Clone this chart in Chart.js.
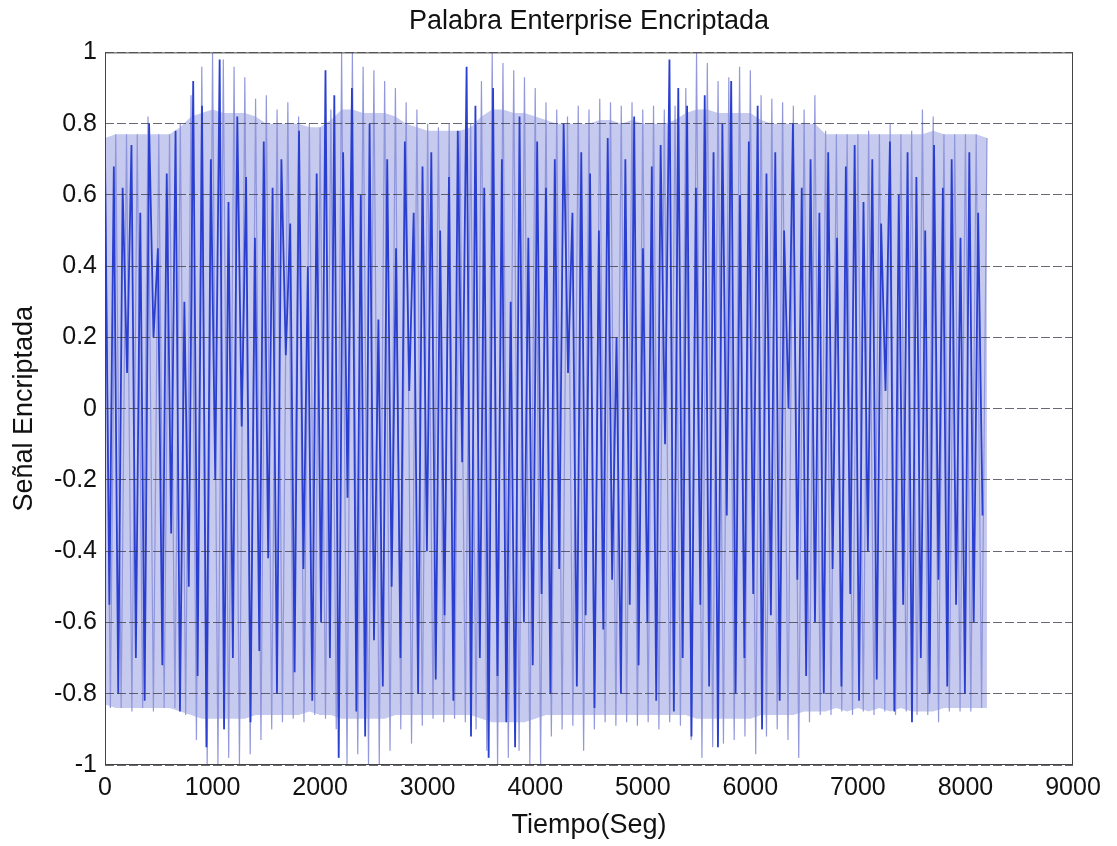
<!DOCTYPE html>
<html>
<head>
<meta charset="utf-8">
<script src="https://cdn.jsdelivr.net/npm/chart.js@4/dist/chart.umd.min.js"></script>
<style>
  body { margin: 0; background: #fff; }
  #grafica { display: block; }
</style>
</head>
<body>
<canvas id="grafica" width="1117" height="846"></canvas>
<script>
// tiempo de cada bin de la envolvente (seg)
var tiempoEnv = [];
for (var t = 0; t <= 8200; t += 100) tiempoEnv.push(t);

// parte densa de la senal (zona casi solida), leida por bin de 100 seg
var nucleoSup = [0.76,0.77,0.77,0.77,0.77,0.77,0.77,0.79,0.82,0.83,0.84,0.83,0.83,0.83,0.82,0.80,0.80,0.80,0.80,0.79,0.79,0.81,0.84,0.84,0.83,0.83,0.83,0.82,0.80,0.79,0.78,0.78,0.78,0.78,0.79,0.82,0.84,0.84,0.83,0.83,0.82,0.81,0.80,0.80,0.80,0.80,0.81,0.81,0.80,0.81,0.80,0.80,0.80,0.81,0.83,0.84,0.84,0.83,0.83,0.83,0.83,0.81,0.80,0.80,0.80,0.80,0.80,0.77,0.77,0.77,0.77,0.77,0.77,0.77,0.77,0.77,0.77,0.78,0.77,0.77,0.77,0.77,0.76];
var nucleoInf = [-0.83,-0.84,-0.84,-0.84,-0.84,-0.84,-0.84,-0.85,-0.86,-0.87,-0.87,-0.87,-0.87,-0.87,-0.86,-0.86,-0.86,-0.86,-0.86,-0.85,-0.86,-0.86,-0.87,-0.87,-0.87,-0.87,-0.87,-0.86,-0.86,-0.86,-0.86,-0.86,-0.86,-0.86,-0.86,-0.87,-0.88,-0.88,-0.88,-0.88,-0.87,-0.86,-0.86,-0.86,-0.86,-0.86,-0.86,-0.86,-0.86,-0.86,-0.86,-0.86,-0.86,-0.86,-0.86,-0.87,-0.87,-0.87,-0.87,-0.87,-0.87,-0.86,-0.86,-0.86,-0.86,-0.85,-0.85,-0.85,-0.84,-0.85,-0.84,-0.85,-0.84,-0.85,-0.84,-0.85,-0.85,-0.85,-0.84,-0.84,-0.84,-0.84,-0.84];

// picos extremos de cada bin
var picoSup = [0.76,0.77,0.77,0.77,0.82,0.77,0.77,0.80,0.88,0.96,1.00,0.98,0.96,0.93,0.87,0.88,0.84,0.86,0.82,0.80,0.79,0.84,1.00,1.00,0.96,0.95,0.92,0.90,0.86,0.84,0.80,0.79,0.80,0.78,0.80,0.92,1.00,0.97,0.95,0.93,0.90,0.86,0.84,0.82,0.85,0.84,0.87,0.86,0.85,0.86,0.84,0.85,0.84,0.85,0.90,1.00,0.97,0.92,0.93,0.96,0.95,0.88,0.87,0.86,0.85,0.84,0.88,0.78,0.77,0.77,0.77,0.78,0.77,0.80,0.77,0.78,0.84,0.82,0.77,0.77,0.77,0.77,0.76];
var picoInf = [-0.84,-0.84,-0.85,-0.84,-0.85,-0.84,-0.84,-0.86,-0.93,-1.00,-1.00,-0.98,-1.00,-0.97,-0.93,-0.90,-0.88,-0.87,-0.88,-0.86,-0.87,-0.90,-1.00,-0.97,-1.00,-1.00,-0.96,-0.90,-0.94,-0.89,-0.87,-0.88,-0.87,-0.88,-0.90,-0.96,-1.00,-0.98,-0.96,-1.00,-1.00,-0.92,-0.90,-0.89,-0.96,-0.90,-0.88,-0.89,-0.88,-0.89,-0.88,-0.90,-0.88,-0.89,-0.93,-0.98,-0.95,-0.94,-0.93,-0.92,-0.97,-0.92,-0.90,-0.93,-0.98,-0.88,-0.86,-0.86,-0.85,-0.86,-0.85,-0.86,-0.85,-0.86,-0.85,-0.86,-0.86,-0.88,-0.85,-0.85,-0.85,-0.84,-0.84];

// trazos azul oscuro, uno cada 41 seg
var pasoOscuro = 41;
var trazoOscuro = [
  0.72,-0.55,0.68,-0.80,0.62,0.10,0.74,-0.70,0.55,-0.82,
  0.80,0.20,0.45,-0.72,0.66,-0.35,0.78,-0.85,0.30,-0.50,
  0.92,-0.75,0.85,-0.95,0.70,-0.20,0.98,-0.90,0.58,-0.70,
  0.82,-0.05,0.65,-0.88,0.48,-0.68,0.75,-0.42,0.62,-0.80,
  0.70,0.15,0.52,-0.74,0.78,-0.45,0.40,-0.82,0.66,-0.60,
  0.95,-0.70,0.88,-0.98,0.72,-0.25,0.90,-0.85,0.60,-0.92,
  0.80,-0.65,0.25,-0.78,0.70,-0.50,0.45,-0.70,0.75,0.05,
  0.55,-0.80,0.68,-0.40,0.72,-0.76,0.50,-0.58,0.65,-0.82,
  0.78,-0.15,0.96,-0.92,0.85,-0.70,0.62,-0.98,0.90,-0.75,
  0.70,-0.88,0.30,-0.95,0.82,-0.60,0.48,-0.72,0.75,-0.52,
  0.62,-0.80,0.70,-0.45,0.80,0.10,0.55,-0.78,0.72,-0.58,
  0.66,-0.84,0.50,-0.62,0.76,-0.48,0.20,-0.80,0.70,-0.55,
  0.82,-0.72,0.45,-0.60,0.68,-0.82,0.74,-0.10,0.98,-0.85,
  0.90,-0.70,0.85,-0.92,0.62,-0.55,0.88,-0.78,0.72,-0.95,
  0.80,-0.30,0.92,-0.80,0.60,-0.70,0.75,-0.52,0.85,-0.90,
  0.66,-0.58,0.72,-0.82,0.50,0.00,0.80,-0.48,0.62,-0.75,
  0.70,-0.60,0.55,-0.80,0.72,-0.45,0.48,-0.78,0.68,-0.52,
  0.74,-0.82,0.58,-0.40,0.70,-0.76,0.52,0.05,0.75,-0.85,
  0.60,-0.55,0.72,-0.88,0.65,-0.70,0.50,-0.80,0.74,-0.48,
  0.62,-0.78,0.70,-0.55,0.48,-0.80,0.72,-0.60,0.55,-0.30
];

var fuente = "'Liberation Sans', Arial, sans-serif";

// puntos para chart.js
var ptsNucleoSup = tiempoEnv.map(function (t, i) { return { x: t, y: nucleoSup[i] }; });
var ptsNucleoInf = tiempoEnv.map(function (t, i) { return { x: t, y: nucleoInf[i] }; });
var ptsPicos = [];
tiempoEnv.forEach(function (t, i) {
  ptsPicos.push({ x: t, y: picoSup[i] });
  if (t < 8200) ptsPicos.push({ x: t + 50, y: picoInf[i] });
});
var ptsOscuro = trazoOscuro.map(function (v, i) { return { x: i * pasoOscuro, y: v }; });

// marco del eje
var marco = {
  id: 'marco',
  afterDraw: function (chart) {
    var a = chart.chartArea, ctx = chart.ctx;
    ctx.save();
    ctx.strokeStyle = '#444';
    ctx.lineWidth = 1;
    ctx.strokeRect(a.left + 0.5, a.top + 0.5, a.right - a.left - 1, a.bottom - a.top - 1);
    ctx.restore();
  }
};

new Chart(document.getElementById('grafica'), {
  type: 'line',
  data: {
    datasets: [
      { data: ptsOscuro, borderColor: '#2a3fd0', borderWidth: 1.8, pointRadius: 0, fill: false, order: 1 },
      { data: ptsPicos, borderColor: 'rgba(140,146,218,0.95)', borderWidth: 1.2, pointRadius: 0, fill: false, order: 2 },
      { data: ptsNucleoSup, borderWidth: 0, borderColor: 'rgba(0,0,0,0)', backgroundColor: '#c6caee', pointRadius: 0, fill: '+1', order: 3 },
      { data: ptsNucleoInf, borderWidth: 0, borderColor: 'rgba(0,0,0,0)', pointRadius: 0, fill: false, order: 4 }
    ]
  },
  options: {
    responsive: false,
    animation: false,
    parsing: false,
    layout: { padding: { left: 0, right: 44, top: 0, bottom: 0 } },
    plugins: {
      legend: { display: false },
      tooltip: { enabled: false },
      title: {
        display: true,
        fullSize: false,
        text: 'Palabra Enterprise Encriptada',
        color: '#111',
        font: { family: fuente, size: 27, weight: 'normal' },
        padding: { top: 5, bottom: 15 }
      }
    },
    scales: {
      x: {
        type: 'linear',
        min: 0, max: 9000,
        ticks: {
          stepSize: 1000, color: '#111', padding: 8, maxRotation: 0, font: { family: fuente, size: 25 },
          callback: function (v) { return String(v); }
        },
        grid: { display: false, drawTicks: false },
        border: { display: false },
        title: { display: true, text: 'Tiempo(Seg)', color: '#111', font: { family: fuente, size: 27 }, padding: { top: 0, bottom: 4 } },
        afterFit: function (s) { s.height = 81; }
      },
      y: {
        min: -1, max: 1,
        ticks: {
          stepSize: 0.2, color: '#111', padding: 8, font: { family: fuente, size: 25 },
          callback: function (v) { return String(Math.round(v * 10) / 10); }
        },
        grid: { color: 'rgba(55,55,70,0.75)', lineWidth: 1, z: 1, drawTicks: false },
        border: { display: false, dash: [9, 3] },
        title: { display: true, text: 'Señal Encriptada', color: '#111', font: { family: fuente, size: 27 }, padding: { top: 8, bottom: 8 } },
        afterFit: function (s) { s.width = 105; }
      }
    }
  },
  plugins: [marco]
});
</script>
</body>
</html>
